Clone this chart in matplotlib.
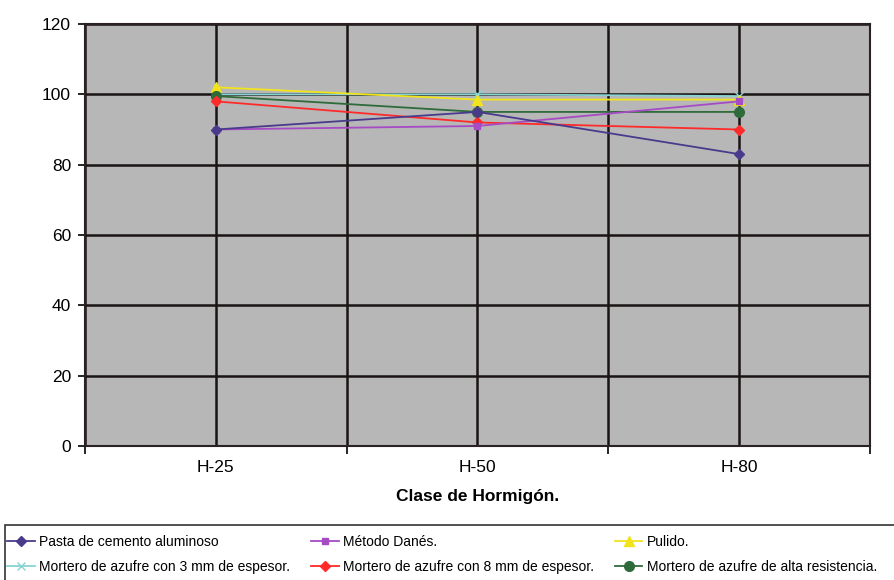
import matplotlib
matplotlib.use("Agg")
import matplotlib.pyplot as plt
from matplotlib.patches import Rectangle
import numpy as np

plt.rcParams['font.family'] = ['Liberation Sans', 'DejaVu Sans']

# data
clases = ['H-25', 'H-50', 'H-80']
pasta = [90, 95, 83]
danes = [90, 91, 98]
pulido = [102, 98.5, 98.5]
mortero3 = [100, 100, 99.5]
mortero8 = [98, 92, 90]
alta = [99.5, 95, 95]

fig = plt.figure(figsize=(8.95, 5.8), dpi=100)
ax = fig.add_axes([85/895, 1-446/580, (870-85)/895, (446-24)/580])
ax.set_facecolor('#b7b7b7')

x = np.arange(len(clases))
series = [
    (pasta, 'Pasta de cemento aluminoso', '#4a3a8c', 'D', 5),
    (mortero3, 'Mortero de azufre con 3 mm de espesor.', '#88d4d4', 'x', 6),
    (danes, 'Método Danés.', '#a64bc4', 's', 5),
    (mortero8, 'Mortero de azufre con 8 mm de espesor.', '#ff2a2a', 'D', 5),
    (pulido, 'Pulido.', '#f2e41c', '^', 7),
    (alta, 'Mortero de azufre de alta resistencia.', '#2f6b3a', 'o', 7),
]
draw_order = [1, 4, 5, 3, 2, 0]
handles = {}
for i in draw_order:
    vals, lab, col, mk, ms = series[i]
    h, = ax.plot(x, vals, color=col, marker=mk, markersize=ms, lw=1.3,
                 label=lab, zorder=3)
    handles[i] = h

ax.set_xlim(-0.5, 2.5)
ax.set_ylim(0, 120)
ax.set_yticks(range(0, 121, 20))
ax.set_xticks(x)
ax.set_xticklabels(clases)
ax.set_xticks([-0.5, 0.5, 1.5, 2.5], minor=True)
for gx in [-0.5, 0, 0.5, 1, 1.5, 2, 2.5]:
    ax.axvline(gx, color='#1a1414', lw=1.8, zorder=1)
ax.grid(axis='y', color='#1a1414', lw=1.8, zorder=1)
ax.set_axisbelow(True)
for s in ax.spines.values():
    s.set_color('#2a2222')
    s.set_linewidth(1.5)
ax.tick_params(axis='y', length=5, width=1.2, labelsize=12.5, pad=5)
ax.tick_params(axis='x', which='major', length=0, labelsize=12.5, pad=10)
ax.tick_params(axis='x', which='minor', length=6, width=1.2)
ax.set_xlabel('Clase de Hormigón.', fontsize=12.5, fontweight='bold', labelpad=10)

# legend box runs off the right and bottom edges like in the scan
fig.patches.append(Rectangle((5/895, -0.05), 1.0, 1-525/580+0.05,
                             transform=fig.transFigure, fill=False,
                             edgecolor='#333333', lw=1.2))
leg = fig.legend([handles[i] for i in range(6)], [series[i][1] for i in range(6)],
                 loc='upper left', bbox_to_anchor=(3/895, 1-531/580),
                 ncol=3, frameon=False,
                 handlelength=2.0, handletextpad=0.3,
                 columnspacing=1.5, borderaxespad=0, labelspacing=0.8,
                 borderpad=0.3, prop={'size': 10})

fig.savefig('out.png', dpi=100)
